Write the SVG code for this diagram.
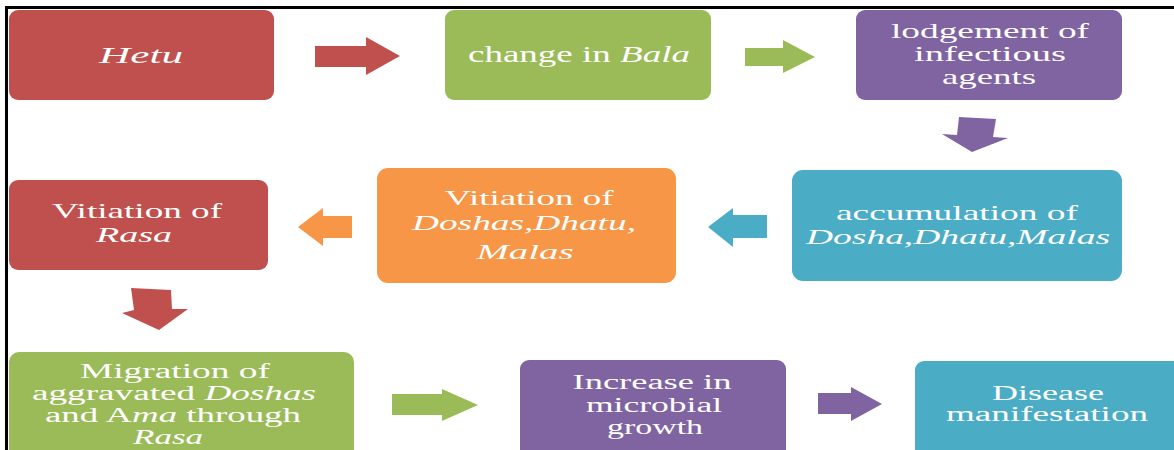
<svg xmlns="http://www.w3.org/2000/svg" width="1174" height="450" viewBox="0 0 1174 450">
<style>
.t{font-family:"Liberation Serif","Times New Roman",serif;font-size:24px;fill:#fff;text-anchor:middle}
.m{font-size:22px}
.s{font-size:20px}
.i{font-style:italic}
.red{fill:#C0504D}.grn{fill:#9BBB59}.pur{fill:#8064A2}.blu{fill:#4BACC6}.org{fill:#F79646}
</style>
<rect x="0" y="0" width="1174" height="450" fill="#fff"/>
<g id="frame"><path d="M6.5 450 V7.5 H1174" fill="none" stroke="#000" stroke-width="3"/></g>
<g id="n1"><rect class="red" x="9" y="10" width="265" height="90" rx="9"/>
<text class="t i" x="141" y="63" textLength="84" lengthAdjust="spacingAndGlyphs">Hetu</text></g>
<g id="n2"><rect class="grn" x="445" y="10" width="266" height="90" rx="9"/>
<text class="t" x="579" y="62" textLength="222" lengthAdjust="spacingAndGlyphs">change in <tspan class="i">Bala</tspan></text></g>
<g id="n3"><rect class="pur" x="856" y="10" width="266" height="90" rx="9"/>
<text class="t m" x="990" y="38" textLength="198" lengthAdjust="spacingAndGlyphs">lodgement of</text>
<text class="t m" x="990" y="61" textLength="152" lengthAdjust="spacingAndGlyphs">infectious</text>
<text class="t m" x="989" y="84" textLength="94" lengthAdjust="spacingAndGlyphs">agents</text></g>
<g id="n4"><rect class="blu" x="792" y="170" width="330" height="111" rx="11"/>
<text class="t m" x="957" y="220" textLength="242" lengthAdjust="spacingAndGlyphs">accumulation of</text>
<text class="t m i" x="958" y="244" textLength="304" lengthAdjust="spacingAndGlyphs">Dosha,Dhatu,Malas</text></g>
<g id="n5"><rect class="org" x="377" y="168" width="299" height="115" rx="11"/>
<text class="t m" x="529" y="205" textLength="169" lengthAdjust="spacingAndGlyphs">Vitiation of</text>
<text class="t m i" x="524" y="230" textLength="224" lengthAdjust="spacingAndGlyphs">Doshas,Dhatu,</text>
<text class="t m i" x="525" y="259" textLength="97" lengthAdjust="spacingAndGlyphs">Malas</text></g>
<g id="n6"><rect class="red" x="9" y="180" width="259" height="90" rx="9"/>
<text class="t m" x="137" y="218" textLength="170" lengthAdjust="spacingAndGlyphs">Vitiation of</text>
<text class="t m i" x="134" y="242" textLength="76" lengthAdjust="spacingAndGlyphs">Rasa</text></g>
<g id="n7"><rect class="grn" x="9" y="352" width="345" height="110" rx="10"/>
<text class="t s" x="175" y="378" textLength="190" lengthAdjust="spacingAndGlyphs">Migration of</text>
<text class="t s" x="174" y="400" textLength="284" lengthAdjust="spacingAndGlyphs">aggravated <tspan class="i">Doshas</tspan></text>
<text class="t s" x="173" y="422" textLength="256" lengthAdjust="spacingAndGlyphs">and A<tspan class="i">ma</tspan> through</text>
<text class="t s i" x="168" y="444" textLength="70" lengthAdjust="spacingAndGlyphs">Rasa</text></g>
<g id="n8"><rect class="pur" x="520" y="360" width="266" height="100" rx="9"/>
<text class="t s" x="652" y="389" textLength="159" lengthAdjust="spacingAndGlyphs">Increase in</text>
<text class="t s" x="654" y="412" textLength="136" lengthAdjust="spacingAndGlyphs">microbial</text>
<text class="t s" x="655" y="434" textLength="96" lengthAdjust="spacingAndGlyphs">growth</text></g>
<g id="n9"><rect class="blu" x="915" y="361" width="270" height="100" rx="9"/>
<text class="t s" x="1048" y="400" textLength="112" lengthAdjust="spacingAndGlyphs">Disease</text>
<text class="t s" x="1047" y="421" textLength="202" lengthAdjust="spacingAndGlyphs">manifestation</text></g>
<g id="connectors">
<polygon class="red" points="315,46 366,46 366,37 400,56 366,75 366,67 315,67"/>
<polygon class="grn" points="745,48 783,48 783,40 815,57 783,73 783,66 745,66"/>
<polygon class="pur" points="959,117 996,119 993,137 1008,138 972,152 942,134 957,135"/>
<polygon class="blu" points="767,215 733,215 733,208 708,227 733,247 733,238 767,238"/>
<polygon class="org" points="352,216 323,216 323,208 298,227 323,246 323,238 352,238"/>
<polygon class="red" points="131,288 171,290 172,309 188,309 159,330 122,313 134,310"/>
<polygon class="grn" points="392,394 442,394 442,389 478,405 442,421 442,415 392,415"/>
<polygon class="pur" points="818,393 851,393 851,387 882,404 851,421 851,414 818,414"/>
</g>
</svg>
